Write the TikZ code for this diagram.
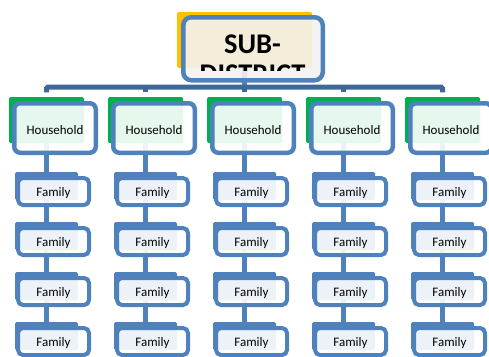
\documentclass[tikz,border=0pt]{standalone}
\usepackage{fontspec}
\setmainfont{Carlito}
\definecolor{accblue}{HTML}{4F81BD}
\definecolor{busblue}{HTML}{3F6899}
\definecolor{accgreen}{HTML}{00B050}
\definecolor{accyellow}{HTML}{FFC000}
\definecolor{boxfillgray}{HTML}{F2F2F2}
\pgfdeclarelayer{bg}
\pgfsetlayers{bg,main}
\begin{document}
\begin{tikzpicture}[x=1pt,y=-1pt,
  backshape/.style={rectangle, inner sep=0pt, draw=none, rounded corners=1.5pt},
  sdback/.style={backshape, fill=accyellow, minimum width=135pt, minimum height=56pt},
  hhback/.style={backshape, fill=accgreen, minimum width=75pt, minimum height=46pt},
  famback/.style={backshape, fill=accblue, minimum width=63pt, minimum height=28pt},
  frontbox/.style={rectangle, draw=accblue, fill=white, fill opacity=0.9, text opacity=1, inner sep=0pt},
  sdfront/.style={frontbox, fill=boxfillgray, line width=4.5pt, rounded corners=8pt, minimum width=139.5pt, minimum height=63pt},
  hhfront/.style={frontbox, line width=4.5pt, rounded corners=6pt, minimum width=81.5pt, minimum height=49.5pt, font=\fontsize{13}{15}\selectfont, text height=13pt, text depth=0pt},
  famfront/.style={frontbox, line width=4pt, rounded corners=5pt, minimum width=71pt, minimum height=27pt, font=\fontsize{13}{15}\selectfont, text height=9pt, text depth=0pt},
  busline/.style={draw=busblue, line width=5pt, rounded corners=1.5pt},
  conn/.style={draw=accblue, line width=5pt},
  sdtext/.style={font=\bfseries\fontsize{28.5}{30}\selectfont, align=center, inner sep=0pt, anchor=north}
]
\useasboundingbox (0,0) rectangle (489,356);
% sub-district
\node[sdback] (sdb) at (244.5,40) {};
\node[sdfront] (sd) at (253,48.75) {};
\begin{scope}
  \clip[rounded corners=4pt] (183.5,17.5) rectangle (322.5,70.5);
  \node[sdtext] (sdt) at (252.5,34.5) {SUB-\\DISTRICT};
\end{scope}
% households and families
\foreach \k in {1,...,5} {
  \pgfmathsetmacro\cx{46.5+99*(\k-1)}
  \node[hhback] (hb\k) at (\cx,120) {};
  \node[hhfront] (h\k) at (\cx+8.5,128) {Household};
  \foreach \r in {1,...,4} {
    \pgfmathsetmacro\cy{186+50*(\r-1)}
    \node[famback] (fb\k\r) at (\cx,\cy) {};
    \node[famfront] (f\k\r) at (\cx+7,\cy+5.5) {Family};
  }
}
% connectors
\begin{pgfonlayer}{bg}
  \coordinate (bus) at (244.5,87);
  \draw[conn] (sdb) -- (bus);
  \draw[busline] ([yshift=4.5pt]hb1.north) |- (bus) -| ([yshift=4.5pt]hb5.north);
  \foreach \k in {2,3,4} \draw[busline] ([yshift=4.5pt]hb\k.north) -- (hb\k.north |- bus);
  \foreach \k in {1,...,5} \draw[conn] (hb\k) -- (fb\k4);
\end{pgfonlayer}
\end{tikzpicture}
\end{document}
